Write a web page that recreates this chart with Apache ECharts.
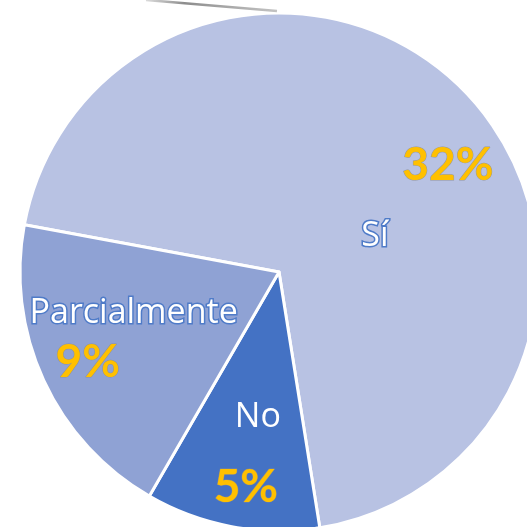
<!DOCTYPE html>
<html>
<head>
<meta charset="utf-8">
<script src="https://cdn.jsdelivr.net/npm/echarts@6/dist/echarts.min.js"></script>
<style>
html,body{margin:0;padding:0;background:#fff;}
#chart{width:527px;height:527px;}
</style>
</head>
<body>
<div id="chart"></div>
<script>
// Data (clockwise order from the Sí / Parcialmente boundary)
const categories = ['Sí', 'No', 'Parcialmente'];
const values = [32, 5, 9];
const valueLabels = ['32%', '5%', '9%'];

// Styles kept separate from the data
const sliceColors = ['#B8C2E3', '#4472C4', '#8FA2D4'];
const nameOffsets = { 'Sí': [1, 57], 'No': [3, 15], 'Parcialmente': [-25, -14] };
const pctOffsets = { 'Sí': [74, -14], 'No': [-9, 85], 'Parcialmente': [-71, 35] };
const nameStrokeWidth = { 'Sí': 3, 'No': 0, 'Parcialmente': 3 };

const chart = echarts.init(document.getElementById('chart'), null, { renderer: 'canvas' });

const common = {
  type: 'pie',
  center: [279, 272],
  radius: 259,
  startAngle: 169.5,
  clockwise: true,
  avoidLabelOverlap: false,
  labelLine: { show: false },
  emphasis: { disabled: true },
  animation: false
};

chart.setOption({
  backgroundColor: '#ffffff',
  graphic: [{
    type: 'line',
    shape: { x1: 146, y1: 0, x2: 277, y2: 11 },
    style: {
      stroke: new echarts.graphic.LinearGradient(0, 0, 1, 0, [
        { offset: 0, color: 'rgba(150,150,150,0.3)' },
        { offset: 0.3, color: '#8c8c8c' },
        { offset: 1, color: 'rgba(170,170,170,0.7)' }
      ]),
      lineWidth: 2.5
    },
    silent: true,
    z: 10
  }],
  series: [
    Object.assign({}, common, {
      name: 'names',
      itemStyle: { borderColor: '#ffffff', borderWidth: 3 },
      data: categories.map((c, i) => ({
        name: c,
        value: values[i],
        itemStyle: { color: sliceColors[i] },
        label: { textBorderWidth: nameStrokeWidth[c] }
      })),
      label: {
        show: true,
        position: 'inside',
        formatter: '{b}',
        color: '#ffffff',
        textBorderColor: '#4F7BC8',
        textBorderWidth: 3,
        fontFamily: '"Open Sans", Lato, sans-serif',
        fontSize: 34
      },
      labelLayout: function (p) {
        const o = nameOffsets[categories[p.dataIndex]];
        return { dx: o[0], dy: o[1] };
      }
    }),
    Object.assign({}, common, {
      name: 'values',
      silent: true,
      itemStyle: { color: 'rgba(0,0,0,0)', borderWidth: 0 },
      data: categories.map((c, i) => ({ name: c, value: values[i] })),
      label: {
        show: true,
        position: 'inside',
        formatter: function (p) { return valueLabels[p.dataIndex]; },
        color: '#FFC000',
        fontFamily: 'Lato, "Open Sans", sans-serif',
        fontWeight: 'bold',
        fontSize: 46,
        textBorderColor: 'rgba(140,140,140,0.8)',
        textBorderWidth: 1
      },
      labelLayout: function (p) {
        const o = pctOffsets[categories[p.dataIndex]];
        return { dx: o[0], dy: o[1] };
      }
    })
  ]
});
</script>
</body>
</html>
